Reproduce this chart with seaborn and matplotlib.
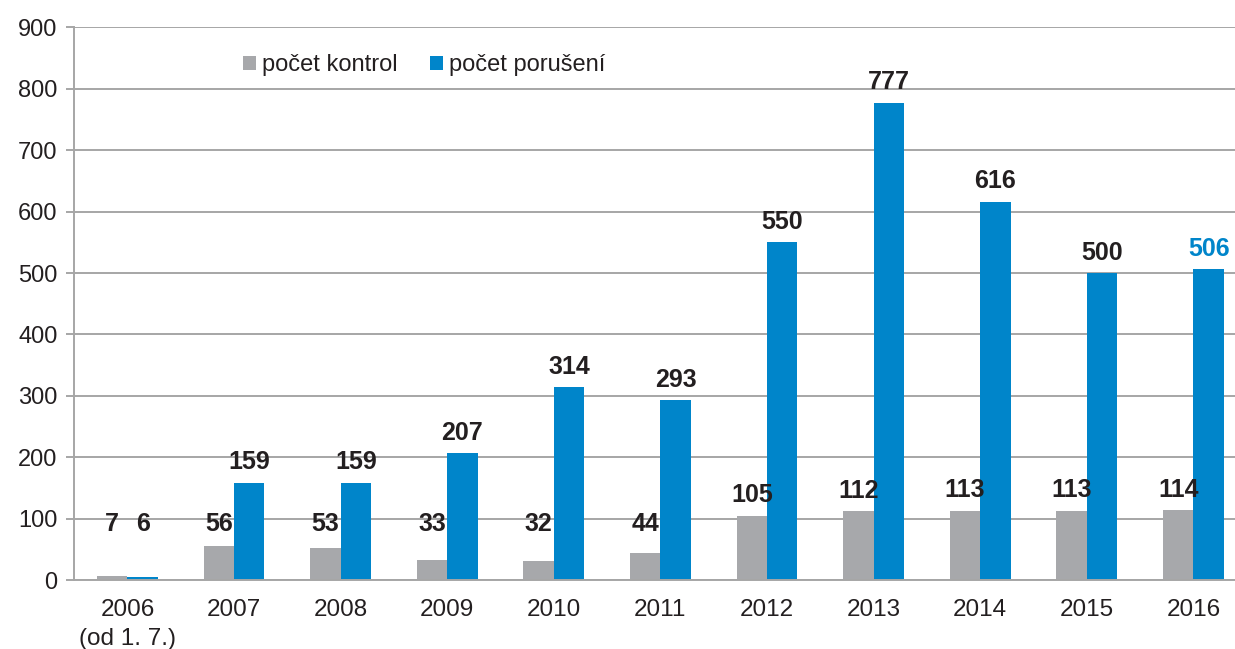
import matplotlib
matplotlib.use("Agg")
import matplotlib.pyplot as plt
import seaborn as sns
import pandas as pd

years = ["2006\n(od 1. 7.)", "2007", "2008", "2009", "2010", "2011",
         "2012", "2013", "2014", "2015", "2016"]
kontrol = [7, 56, 53, 33, 32, 44, 105, 112, 113, 113, 114]
poruseni = [6, 159, 159, 207, 314, 293, 550, 777, 616, 500, 506]
series = ["počet kontrol", "počet porušení"]
colors = ["#A7A8AB", "#0085CA"]

df = pd.DataFrame({
    "rok": years * 2,
    "serie": [series[0]] * len(years) + [series[1]] * len(years),
    "hodnota": kontrol + poruseni,
})

sns.set_style("white")
plt.rcParams["font.family"] = ["Liberation Sans", "DejaVu Sans"]

fig = plt.figure(figsize=(12.35, 6.49), dpi=100)
ax = fig.add_axes([0.06, 0.106, 0.94, 0.852])

sns.barplot(data=df, x="rok", y="hodnota", hue="serie", palette=colors,
            width=0.57, saturation=1, linewidth=0, ax=ax, legend=True)

# popisky nad sloupci
for i, s in enumerate(series):
    vals = kontrol if i == 0 else poruseni
    off = -0.143 if i == 0 else 0.143
    for j, v in enumerate(vals):
        col = "#0085CA" if (i == 1 and j == len(vals) - 1) else "#231F20"
        ax.annotate(str(v), (j + off, max(v, 58)), xytext=(0, 6),
                    textcoords="offset points", ha="center", va="bottom",
                    fontsize=18, fontweight="bold", color=col)

ax.set_ylim(0, 900)
ax.set_xlim(-0.5, 10.39)
ax.set_yticks(range(0, 901, 100))
ax.yaxis.grid(True, color="#A6A6A6", linewidth=1.4)
ax.set_axisbelow(True)
ax.set_xlabel("")
ax.set_ylabel("")
for side in ["top", "right"]:
    ax.spines[side].set_visible(False)
ax.spines["left"].set_color("#A6A6A6")
ax.spines["left"].set_linewidth(1.4)
ax.spines["bottom"].set_color("#A6A6A6")
ax.spines["bottom"].set_linewidth(1.4)
ax.tick_params(axis="y", left=True, length=6, width=1.4, color="#A6A6A6",
               labelsize=17, labelcolor="#231F20", pad=6)
ax.tick_params(axis="x", bottom=False, labelsize=17.5, labelcolor="#231F20", pad=10)
for lab in ax.get_xticklabels():
    lab.set_linespacing(1.4)
    lab.set_verticalalignment("top")

leg = ax.legend(loc="upper left", bbox_to_anchor=(0.127, 0.99), ncol=2,
                frameon=False, fontsize=17, handlelength=0.55, handleheight=0.55,
                handletextpad=0.25, columnspacing=1.4)
for t in leg.get_texts():
    t.set_color("#231F20")

fig.savefig("out.png", dpi=100)
